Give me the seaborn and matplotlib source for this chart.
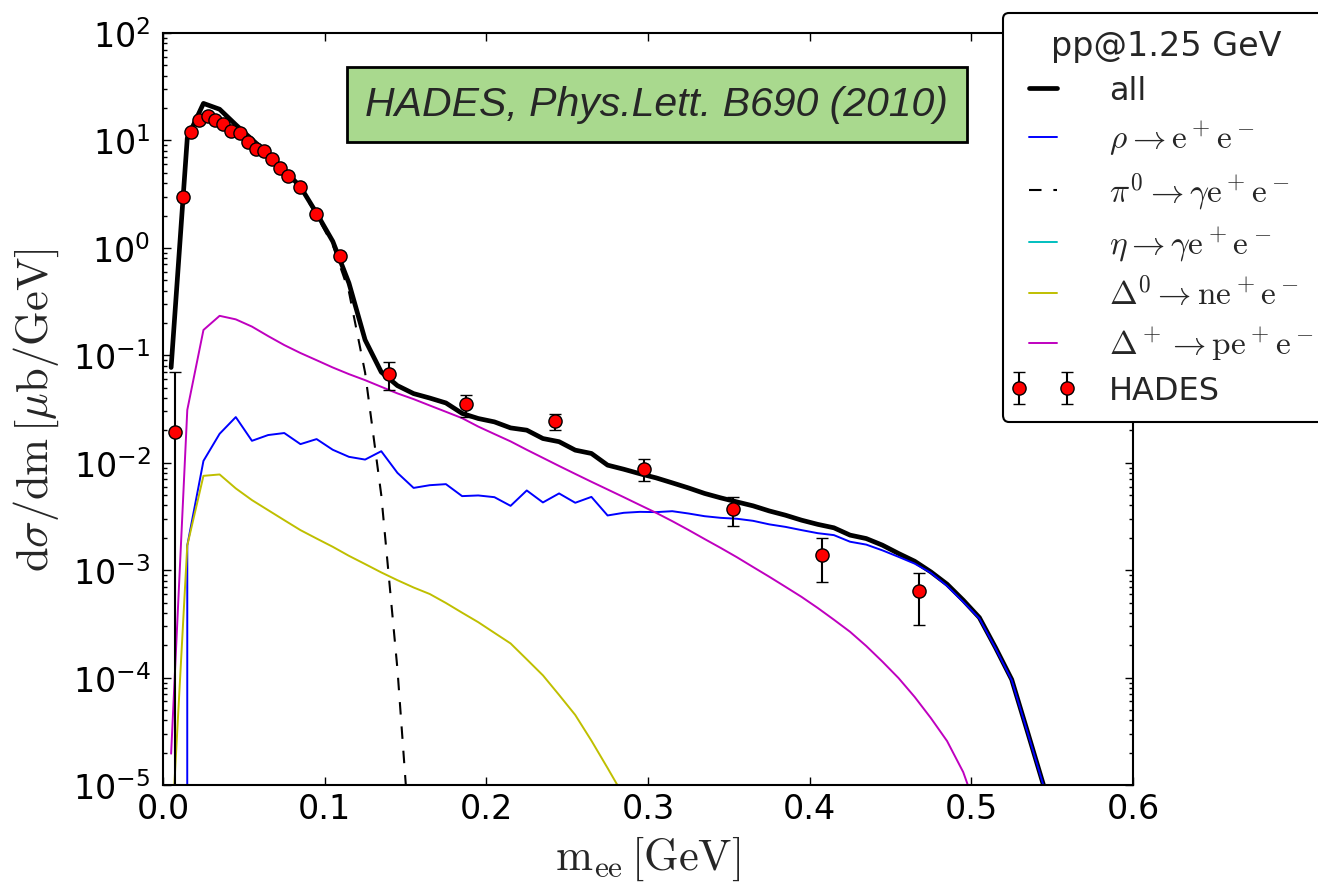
import matplotlib
matplotlib.use("Agg")
import matplotlib.pyplot as plt
from matplotlib.legend_handler import HandlerErrorbar
import pandas as pd
import seaborn as sns

# Dielectron invariant-mass spectrum, pp at 1.25 GeV: model cocktail vs. HADES data
mass = [0.005, 0.015, 0.025, 0.035, 0.045, 0.055, 0.065, 0.075, 0.085, 0.095,
        0.105, 0.115, 0.125, 0.135, 0.145, 0.155, 0.165, 0.175, 0.185, 0.195,
        0.205, 0.215, 0.225, 0.235, 0.245, 0.255, 0.265, 0.275, 0.285, 0.295,
        0.305, 0.315, 0.325, 0.335, 0.345, 0.355, 0.365, 0.375, 0.385, 0.395,
        0.405, 0.415, 0.425, 0.435, 0.445, 0.455, 0.465, 0.475, 0.485, 0.495,
        0.505, 0.515, 0.525, 0.535, 0.545]

total = [0.077, 10.5, 22.1, 19.5, 14.0, 10.2, 7.5, 5.3, 3.7, 2.1,
         1.15, 0.47, 0.139, 0.0698, 0.0522, 0.044, 0.040, 0.036, 0.0288, 0.0258,
         0.0240, 0.0211, 0.0201, 0.0168, 0.0157, 0.0131, 0.0122, 0.0095, 0.0087, 0.0079,
         0.00723, 0.0065, 0.00583, 0.00518, 0.00471, 0.00432, 0.00397, 0.00356, 0.00325, 0.00292,
         0.00267, 0.00248, 0.00212, 0.00197, 0.00171, 0.00143, 0.00121, 0.000964, 0.000741, 0.000526,
         0.000362, 0.00019, 9.6e-5, 3.05e-5, 9.6e-6]

rho = [0.0, 0.0017, 0.0104, 0.0186, 0.0266, 0.016, 0.0181, 0.0189, 0.0149, 0.0166,
       0.0132, 0.01135, 0.0107, 0.0128, 0.00805, 0.00583, 0.00618, 0.00632, 0.00489, 0.00496,
       0.00478, 0.00397, 0.00552, 0.00427, 0.00518, 0.00424, 0.00481, 0.00323, 0.00342, 0.00349,
       0.00347, 0.00354, 0.00337, 0.00318, 0.00307, 0.00301, 0.00288, 0.00267, 0.00253, 0.00236,
       0.00221, 0.00212, 0.00184, 0.00173, 0.00153, 0.00133, 0.00115, 0.000944, 0.000714, 0.000507,
       0.000355, 0.000187, 9.46e-5, 3.02e-5, 9.5e-6]

pi0 = [0.077, 10.4, 21.9, 19.2, 13.75, 10.0, 7.3, 5.15, 3.58, 2.0,
       1.06, 0.39, 0.069, 0.005, 1.2e-4, 1.0e-6, 0.0, 0.0, 0.0, 0.0,
       0.0, 0.0, 0.0, 0.0, 0.0, 0.0, 0.0, 0.0, 0.0, 0.0,
       0.0, 0.0, 0.0, 0.0, 0.0, 0.0, 0.0, 0.0, 0.0, 0.0,
       0.0, 0.0, 0.0, 0.0, 0.0, 0.0, 0.0, 0.0, 0.0, 0.0,
       0.0, 0.0, 0.0, 0.0, 0.0]

# eta production is below threshold at this beam energy
eta = [0.0] * len(mass)

delta0 = [2.8e-6, 0.0017, 0.00755, 0.00778, 0.00577, 0.00449, 0.00362, 0.00292, 0.00236, 0.00197,
          0.00165, 0.00136, 0.00114, 0.000953, 0.000807, 0.00069, 0.0006, 0.000495, 0.000402, 0.000328,
          0.000261, 0.000208, 0.000148, 0.000105, 6.9e-5, 4.49e-5, 2.59e-5, 1.44e-5, 7.9e-6, 3.0e-6,
          0.0, 0.0, 0.0, 0.0, 0.0, 0.0, 0.0, 0.0, 0.0, 0.0,
          0.0, 0.0, 0.0, 0.0, 0.0, 0.0, 0.0, 0.0, 0.0, 0.0,
          0.0, 0.0, 0.0, 0.0, 0.0]

deltap = [1.96e-5, 0.031, 0.172, 0.233, 0.216, 0.185, 0.151, 0.1245, 0.105, 0.090,
          0.077, 0.0668, 0.0587, 0.0509, 0.0442, 0.0391, 0.0341, 0.0298, 0.026, 0.0217,
          0.0185, 0.0158, 0.0132, 0.0111, 0.00933, 0.00787, 0.00665, 0.00564, 0.00478, 0.00404,
          0.00342, 0.00286, 0.00237, 0.00195, 0.00161, 0.00132, 0.00107, 0.000869, 0.000701, 0.000564,
          0.000445, 0.000346, 0.000267, 0.000197, 0.000141, 9.9e-5, 6.6e-5, 4.2e-5, 2.57e-5, 1.32e-5,
          5.0e-6, 1.5e-6, 0.0, 0.0, 0.0]

hades_m = [0.0074, 0.0122, 0.0173, 0.0221, 0.0276, 0.0323, 0.0371, 0.0421, 0.0474, 0.0524,
           0.0575, 0.0626, 0.0674, 0.0724, 0.0771, 0.0849, 0.0948, 0.1096, 0.140, 0.1874,
           0.2424, 0.2977, 0.3525, 0.4075, 0.4677]
hades_y = [0.0192, 2.99, 11.9, 15.5, 17.0, 15.5, 14.2, 12.2, 11.6, 9.7,
           8.4, 8.0, 6.7, 5.5, 4.7, 3.66, 2.05, 0.84, 0.0664, 0.0349,
           0.0242, 0.00877, 0.00372, 0.00139, 0.000634]
hades_err_hi = [0.051, 0.15, 0.5, 0.6, 0.7, 0.6, 0.6, 0.5, 0.5, 0.4,
                0.35, 0.35, 0.3, 0.25, 0.2, 0.16, 0.1, 0.05, 0.0195, 0.0077,
                0.004, 0.0021, 0.00107, 0.00061, 0.00031]
hades_err_lo = [0.0192, 0.15, 0.5, 0.6, 0.7, 0.6, 0.6, 0.5, 0.5, 0.4,
                0.35, 0.35, 0.3, 0.25, 0.2, 0.16, 0.1, 0.05, 0.019, 0.0081,
                0.0041, 0.00207, 0.00112, 0.00062, 0.000322]

channels = [
    ("all", total, "black", 3.4, "-"),
    (r"$\rho \rightarrow \mathrm{e^+e^-}$", rho, "#0000ff", 1.4, "-"),
    (r"$\pi^0 \rightarrow \gamma\mathrm{e^+e^-}$", pi0, "black", 1.5, "--"),
    (r"$\eta \rightarrow \gamma\mathrm{e^+e^-}$", eta, "#00bfbf", 1.4, "-"),
    (r"$\Delta^0 \rightarrow \mathrm{ne^+e^-}$", delta0, "#bfbf00", 1.4, "-"),
    (r"$\Delta^+ \rightarrow \mathrm{pe^+e^-}$", deltap, "#bf00bf", 1.4, "-"),
]

sns.set_style("ticks")
plt.rcParams.update({
    "font.family": ["DejaVu Sans"],
    "xtick.direction": "in", "ytick.direction": "in",
    "xtick.top": True, "ytick.right": True,
    "xtick.major.size": 6, "ytick.major.size": 6,
    "xtick.minor.size": 3, "ytick.minor.size": 3,
    "xtick.major.width": 1.0, "ytick.major.width": 1.0, "ytick.minor.width": 1.0,
    "axes.linewidth": 1.5, "axes.edgecolor": "black",
    "xtick.color": "black", "ytick.color": "black",
    "xtick.labelsize": 24, "ytick.labelsize": 24,
    "xtick.major.pad": 5, "ytick.major.pad": 9,
})

fig = plt.figure(figsize=(13.18, 8.87), dpi=100)
ax = fig.add_axes([0.1237, 0.1138, 0.7359, 0.8479])

handles, labels = [], []
for label, values, color, lw, ls in channels:
    df = pd.DataFrame({"m": mass, "y": values})
    sns.lineplot(data=df, x="m", y="y", ax=ax, color=color, linewidth=lw,
                 estimator=None, errorbar=None, sort=False, legend=False)
    line = ax.lines[-1]
    if ls == "--":
        line.set_dashes((6, 5.7))
    handles.append(line)
    labels.append(label)

eb = ax.errorbar(hades_m, hades_y, yerr=[hades_err_lo, hades_err_hi], fmt="o",
                 color="black", ecolor="black", mfc="red", mec="black", ms=9.5, mew=1,
                 elinewidth=1.5, capsize=4.5, capthick=1.5, zorder=4)
handles.append(eb)
labels.append("HADES")

ax.set_yscale("log")
ax.set_xlim(0, 0.6)
ax.set_ylim(1e-5, 1e2)
ax.set_xticks([0.0, 0.1, 0.2, 0.3, 0.4, 0.5, 0.6])
ax.xaxis.set_major_formatter(matplotlib.ticker.FormatStrFormatter("%.1f"))

ax.set_xlabel(r"$\mathrm{m_{ee}\,[GeV]}$", fontsize=32, math_fontfamily="cm", labelpad=6)
ax.set_ylabel(r"$\mathrm{d}\sigma/\mathrm{dm}\,[\mu\mathrm{b/GeV}]$", fontsize=32,
              math_fontfamily="cm", labelpad=8)

ax.text(0.509, 0.905, "HADES, Phys.Lett. B690 (2010)", transform=ax.transAxes,
        ha="center", va="center", fontsize=29.5, style="italic",
        family=["Liberation Sans", "DejaVu Sans"],
        bbox=dict(boxstyle="square,pad=0.45", facecolor="#a9d98e",
                  edgecolor="black", linewidth=2))

leg = ax.legend(handles, labels, title="pp@1.25 GeV", loc="upper left",
                bbox_to_anchor=(1003 / 1318, 1 - 14 / 887), bbox_transform=fig.transFigure,
                borderaxespad=0, fontsize=23, title_fontsize=24, numpoints=2,
                handlelength=1.5, handletextpad=1.33, labelspacing=0.40, borderpad=0.5,
                frameon=True, fancybox=True, framealpha=1, edgecolor="black",
                facecolor="white",
                handler_map={type(eb): HandlerErrorbar(marker_pad=0.0)})
leg.get_frame().set_linewidth(1.5)
for t in leg.get_texts():
    t.set_math_fontfamily("cm")
    if t.get_text().startswith("$"):
        t.set_fontsize(24)

fig.savefig("out.png", dpi=100, facecolor="white")
